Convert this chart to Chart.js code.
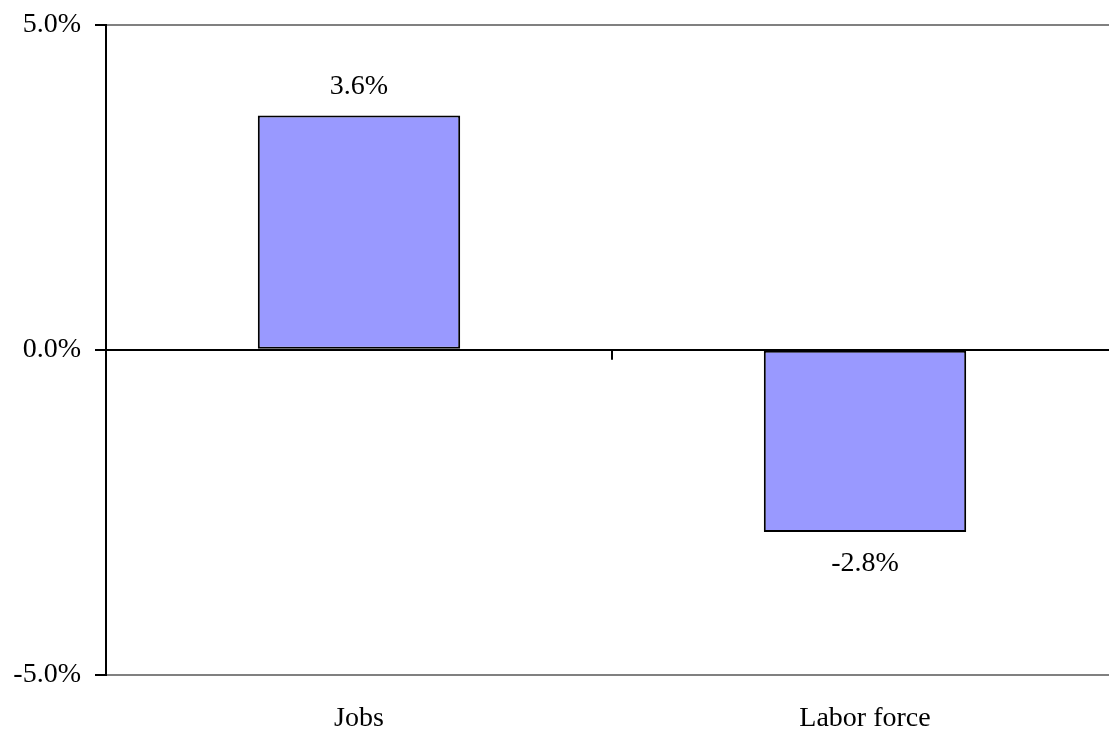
<!DOCTYPE html>
<html>
<head>
<meta charset="utf-8">
<script src="https://cdn.jsdelivr.net/npm/chart.js@4"></script>
<style>
  html, body { margin: 0; padding: 0; background: #fff; overflow: hidden; }
  #wrap { width: 1109px; height: 730px; overflow: hidden; }
</style>
</head>
<body>
<div id="wrap"><canvas id="changeChart" width="1118" height="730"></canvas></div>
<script>
const categories = ['Jobs', 'Labor force'];
const changeValues = [3.6, -2.8];
const yTicks = [-5, 0, 5];

const pct = v => v.toFixed(1) + '%';

// value labels above positive bars, below negative ones
const valueLabels = {
    id: 'valueLabels',
    afterDatasetsDraw(chart) {
        const ctx = chart.ctx;
        const meta = chart.getDatasetMeta(0);
        ctx.save();
        ctx.font = '28px "Liberation Serif"';
        ctx.fillStyle = '#000';
        ctx.textAlign = 'center';
        ctx.textBaseline = 'middle';
        meta.data.forEach((bar, i) => {
            const v = changeValues[i];
            const y = v >= 0 ? bar.y - 29 : bar.y + 32;
            ctx.fillText(pct(v), bar.x, y);
        });
        ctx.restore();
    }
};

// small tick mark on the zero line between the categories
const zeroTicks = {
    id: 'zeroTicks',
    afterDatasetsDraw(chart) {
        const ctx = chart.ctx;
        const x = chart.scales.x;
        const y0 = chart.scales.y.getPixelForValue(0);
        ctx.save();
        ctx.strokeStyle = '#000';
        ctx.lineWidth = 2;
        for (let i = 1; i < categories.length; i++) {
            const px = (x.getPixelForValue(i - 1) + x.getPixelForValue(i)) / 2;
            ctx.beginPath();
            ctx.moveTo(px, y0);
            ctx.lineTo(px, y0 + 10);
            ctx.stroke();
        }
        ctx.restore();
    }
};

const chart = new Chart(document.getElementById('changeChart').getContext('2d'), {
    type: 'bar',
    data: {
        labels: categories,
        datasets: [{
            data: changeValues,
            backgroundColor: '#9999FF',
            borderColor: '#000',
            borderWidth: 2,
            borderSkipped: false,
            barPercentage: 0.4,
            categoryPercentage: 1
        }]
    },
    options: {
        responsive: false,
        animation: false,
        layout: { padding: { top: 24, right: 0, left: 0, bottom: 0 } },
        plugins: {
            legend: { display: false },
            tooltip: { enabled: false }
        },
        scales: {
            x: {
                grid: { display: false },
                border: { display: false },
                ticks: {
                    color: '#000',
                    font: { family: 'Liberation Serif', size: 28 },
                    padding: 19
                },
                afterFit: s => { s.height = 55; }
            },
            y: {
                min: -5,
                max: 5,
                afterBuildTicks: s => { s.ticks = yTicks.map(v => ({ value: v })); },
                ticks: {
                    color: '#000',
                    font: { family: 'Liberation Serif', size: 28, lineHeight: 0.75 },
                    padding: 14,
                    callback: v => pct(v)
                },
                grid: {
                    color: c => c.tick && c.tick.value === 0 ? '#000' : '#808080',
                    lineWidth: 2,
                    tickColor: '#000',
                    tickLength: 11,
                    drawTicks: true
                },
                border: { display: true, color: '#000', width: 2 },
                afterFit: s => { s.width = 106; }
            }
        }
    },
    plugins: [valueLabels, zeroTicks]
});
</script>
</body>
</html>
